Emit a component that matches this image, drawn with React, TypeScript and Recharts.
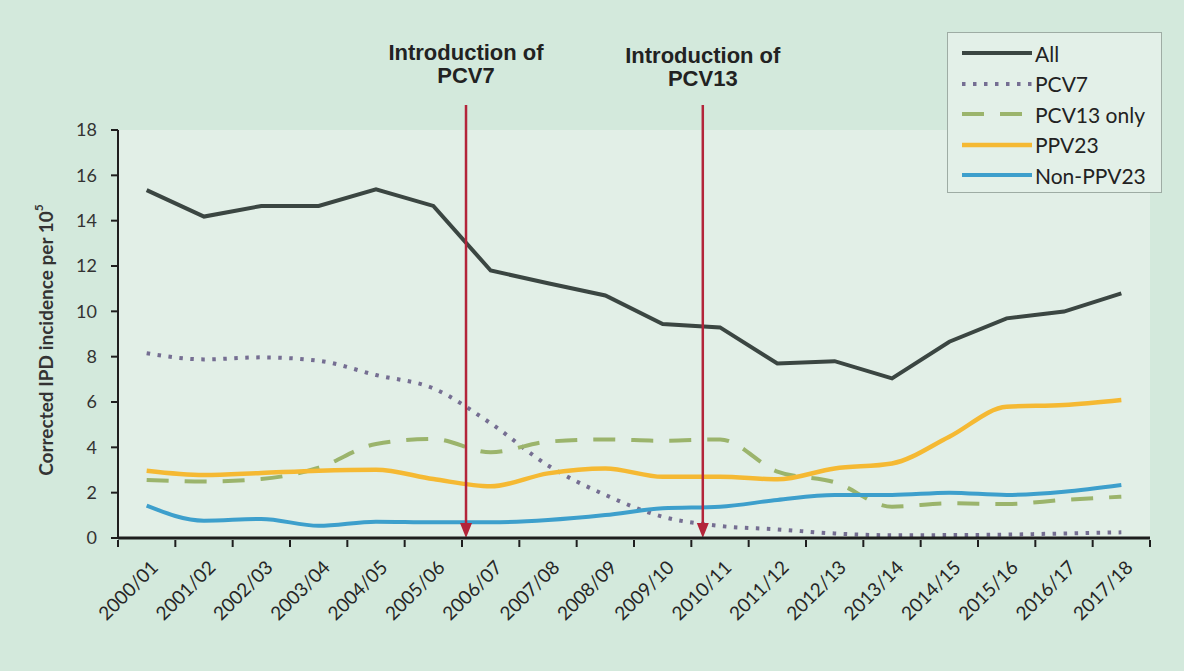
import React from 'react';
import { LineChart, Line, XAxis, YAxis, CartesianGrid, ReferenceLine, Legend, Label } from 'recharts';

const seasons = ['2000/01','2001/02','2002/03','2003/04','2004/05','2005/06','2006/07','2007/08','2008/09','2009/10','2010/11','2011/12','2012/13','2013/14','2014/15','2015/16','2016/17','2017/18'];
const allValues = [15.35, 14.18, 14.65, 14.65, 15.38, 14.65, 11.8, 11.24, 10.7, 9.44, 9.29, 7.7, 7.8, 7.04, 8.66, 9.69, 9.99, 10.79];
const pcv7Values = [8.15, 7.88, 7.97, 7.82, 7.19, 6.6, 5.06, 3.2, 1.9, 0.94, 0.53, 0.38, 0.2, 0.12, 0.13, 0.15, 0.2, 0.25];
const pcv13Values = [2.56, 2.49, 2.6, 3.1, 4.15, 4.37, 3.78, 4.25, 4.35, 4.29, 4.35, 2.93, 2.46, 1.38, 1.53, 1.5, 1.68, 1.82];
const ppv23Values = [2.97, 2.78, 2.87, 2.97, 3.01, 2.6, 2.28, 2.85, 3.07, 2.7, 2.7, 2.59, 3.07, 3.29, 4.47, 5.79, 5.87, 6.09];
const nonPpv23Values = [1.43, 0.76, 0.84, 0.54, 0.72, 0.69, 0.69, 0.79, 1.01, 1.31, 1.38, 1.68, 1.9, 1.9, 2.0, 1.9, 2.04, 2.34];

const yTicks = [0, 2, 4, 6, 8, 10, 12, 14, 16, 18];

// intervention positions, in category units (category i spans [i, i+1])
const introPositions = [6.07, 10.2];
const introLines = [['Introduction of', 'PCV7'], ['Introduction of', 'PCV13']];

const seriesNames = ['All', 'PCV7', 'PCV13 only', 'PPV23', 'Non-PPV23'];
const seriesKeys = ['all', 'pcv7', 'pcv13', 'ppv23', 'nonppv23'];
const seriesColors = ['#3b4642', '#756e92', '#9bb46c', '#f5b933', '#3d9fcc'];
const seriesDash = [undefined, '3.5 7.5', '22 16', undefined, undefined];
const seriesWidth = [4, 4, 4, 4.5, 4];
const seriesType = ['linear', 'monotone', 'monotone', 'monotone', 'monotone'];

const data = seasons.map((s, i) => ({
  season: s,
  pos: i + 0.5,
  all: allValues[i],
  pcv7: pcv7Values[i],
  pcv13: pcv13Values[i],
  ppv23: ppv23Values[i],
  nonppv23: nonPpv23Values[i],
}));
const centerTicks = data.map((d) => d.pos);

const FONT = 'Lato, "Open Sans", sans-serif';
const ARROW = '#b3243a';
const AXIS = '#1e1e1e';

const XTick = (props: any) => {
  const { x, y, payload, index, width } = props;
  const half = width / seasons.length / 2;
  const label = seasons[Math.floor(payload.value)];
  const isLast = index === seasons.length - 1;
  return (
    <g>
      <line x1={x - half} y1={y} x2={x - half} y2={y + 7} stroke={AXIS} strokeWidth={2} />
      {isLast && <line x1={x + half} y1={y} x2={x + half} y2={y + 7} stroke={AXIS} strokeWidth={2} />}
      <g transform={`translate(${x + 8},${y + 24})`}>
        <text textAnchor="end" transform="rotate(-45)" fontSize={19} fontFamily={FONT} fill="#262626" dy="0.35em">
          {label}
        </text>
      </g>
    </g>
  );
};

const makeArrow = (idx: number) => (p: any) => {
  const x = p.x1;
  const top = Math.min(p.y1, p.y2);
  const bottom = Math.max(p.y1, p.y2);
  const lines = introLines[idx];
  const ty = idx === 0 ? 52 : 55;
  return (
    <g>
      <line x1={x} y1={top - 25} x2={x} y2={bottom - 10} stroke={ARROW} strokeWidth={2.5} />
      <polygon points={`${x - 6},${bottom - 15} ${x + 6},${bottom - 15} ${x},${bottom}`} fill={ARROW} />
      <text x={x} y={ty} textAnchor="middle" dominantBaseline="central" fontFamily='"Liberation Sans", Arial, sans-serif' fontWeight="bold" fontSize={22} fill="#222">
        {lines[0]}
      </text>
      <text x={x} y={ty + 23} textAnchor="middle" dominantBaseline="central" fontFamily='"Liberation Sans", Arial, sans-serif' fontWeight="bold" fontSize={22} fill="#222">
        {lines[1]}
      </text>
    </g>
  );
};

const LegendContent = () => (
  <div style={{ width: 215, height: 161, background: '#e3f0e8', border: '1px solid #9eaca4', boxSizing: 'border-box', paddingTop: 5 }}>
    {seriesNames.map((name, i) => (
      <div key={name} style={{ display: 'flex', alignItems: 'center', height: 30.5 }}>
        <svg width={86} height={12} style={{ flex: 'none' }}>
          <line x1={14} y1={6} x2={84} y2={6} stroke={seriesColors[i]} strokeWidth={seriesWidth[i]} strokeDasharray={seriesDash[i]} />
        </svg>
        <span style={{ fontFamily: FONT, fontSize: 21, color: '#222', marginLeft: 1 }}>{name}</span>
      </div>
    ))}
  </div>
);

const YLabelContent = (props: any) => {
  const vb = props.viewBox || {};
  const cx = 45;
  const cy = vb.y + vb.height / 2 + 6;
  return (
    <text x={cx} y={cy} transform={`rotate(-90 ${cx} ${cy})`} textAnchor="middle" dominantBaseline="central" fontFamily={FONT} fontSize={19} fontWeight="bold" fill="#333">
      Corrected IPD incidence per 10
      <tspan dy={-7} fontSize={12}>5</tspan>
    </text>
  );
};

export default function App() {
  return (
    <div style={{ position: 'absolute', left: 0, top: 0, width: 1184, height: 671, background: '#d3e9dc' }}>
      <LineChart width={1184} height={671} data={data} margin={{ top: 130, right: 34, left: 0, bottom: 0 }}>
        <CartesianGrid horizontal={false} vertical={false} fill="#e2efe7" />
        <XAxis
          dataKey="pos"
          type="number"
          domain={[0, seasons.length]}
          ticks={centerTicks}
          interval={0}
          height={133}
          axisLine={{ stroke: AXIS, strokeWidth: 3 }}
          tickLine={false}
          tickSize={0}
          tick={<XTick />}
          allowDataOverflow
        />
        <YAxis
          domain={[0, 18]}
          ticks={yTicks}
          width={118}
          axisLine={{ stroke: AXIS, strokeWidth: 2 }}
          tickLine={{ stroke: AXIS, strokeWidth: 2 }}
          tickSize={7}
          tickMargin={14}
          tick={{ fontSize: 18, fontFamily: FONT, fill: '#333' }}
        >
          <Label content={<YLabelContent />} />
        </YAxis>
        {seriesKeys.map((k, i) => (
          <Line
            key={k}
            type={seriesType[i] as any}
            dataKey={k}
            name={seriesNames[i]}
            stroke={seriesColors[i]}
            strokeWidth={seriesWidth[i]}
            strokeDasharray={seriesDash[i]}
            dot={false}
            activeDot={false}
            isAnimationActive={false}
          />
        ))}
        {introPositions.map((pos, i) => (
          <ReferenceLine key={i} x={pos} ifOverflow="visible" shape={makeArrow(i)} />
        ))}
        <Legend
          layout="vertical"
          align="center"
          verticalAlign="middle"
          content={<LegendContent />}
          wrapperStyle={{ position: 'absolute', left: 947, top: 32, width: 215, height: 161 }}
        />
      </LineChart>
    </div>
  );
}
